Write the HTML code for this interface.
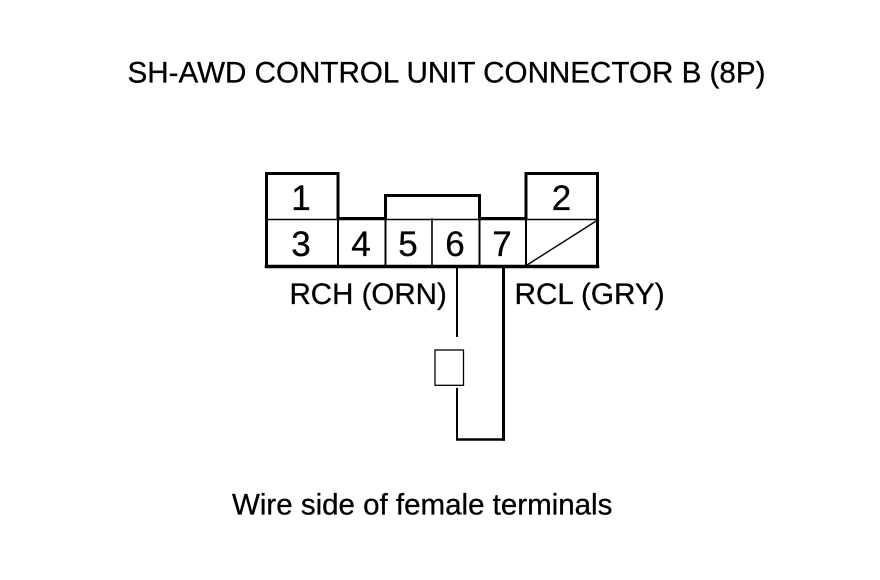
<!DOCTYPE html>
<html><head><meta charset="utf-8"><style>
html,body{margin:0;padding:0;background:#fff;width:880px;height:580px;overflow:hidden}
svg{display:block}
text{font-family:"Liberation Sans",Arial,sans-serif;fill:#000;stroke:#000;stroke-width:.3}
</style></head><body>
<svg width="880" height="580" viewBox="0 0 880 580" xmlns="http://www.w3.org/2000/svg">
<rect width="880" height="580" fill="#fff"/>
<text x="127.5" y="82.5" font-size="29.6">SH-AWD CONTROL UNIT CONNECTOR B (8P)</text>
<g fill="none" stroke="#000" stroke-linecap="square">
<path stroke-width="3" d="M266.5 266.5V173.5H338V218.5H385.5V195.5H479.5V218.5H526V173.5H597.5V266.5"/>
<path stroke-width="3.5" d="M266.5 266.5H597.5"/>
<path stroke-width="1.6" d="M267 219.5H597M432 219V265"/>
<path stroke-width="2" d="M338 219V265M385.5 219V265M479.5 219V265M526 219V265"/>
<path stroke-width="1.4" d="M527 265L597 220.5"/>
<path stroke-width="2" stroke-linecap="butt" d="M457 268V337M457 388V439.5"/>
<path stroke-width="2.5" stroke-linecap="butt" d="M456 439.5H505"/>
<path stroke-width="3" stroke-linecap="butt" d="M503.5 268V440.7"/>
<rect x="435" y="350" width="28.5" height="35.3" stroke-width="1.3"/>
</g>
<g font-size="35" text-anchor="middle">
<text x="301" y="210">1</text>
<text x="561.5" y="210">2</text>
<text x="301" y="256">3</text>
<text x="361" y="256">4</text>
<text x="408" y="256">5</text>
<text x="455" y="256">6</text>
<text x="502" y="256">7</text>
</g>
<text x="289.5" y="304" font-size="29.5">RCH (ORN)</text>
<text x="514.5" y="304" font-size="29.7">RCL (GRY)</text>
<text x="232" y="514.5" font-size="29.5">Wire side of female terminals</text>
</svg>
</body></html>
